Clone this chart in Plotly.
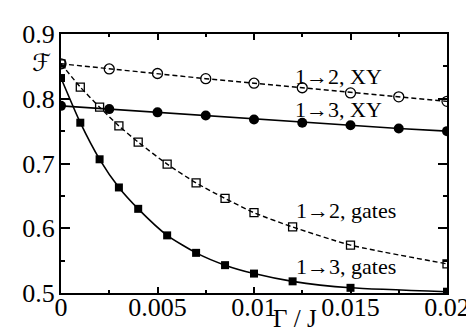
import plotly.graph_objects as go

# --- data ---
x_xy = [0, 0.0025, 0.005, 0.0075, 0.01, 0.0125, 0.015, 0.0175, 0.02]
f12_xy = [0.854, 0.846, 0.839, 0.831, 0.824, 0.817, 0.809, 0.803, 0.796]
f13_xy = [0.789, 0.784, 0.779, 0.774, 0.768, 0.763, 0.759, 0.754, 0.750]

x_gates = [0, 0.001, 0.002, 0.003, 0.004, 0.0055, 0.007, 0.0085, 0.01, 0.012, 0.015, 0.02]
f12_gates = [0.854, 0.818, 0.787, 0.758, 0.733, 0.699, 0.670, 0.646, 0.624, 0.602, 0.574, 0.545]
f13_gates = [0.832, 0.763, 0.7065, 0.663, 0.630, 0.589, 0.562, 0.543, 0.530, 0.518, 0.508, 0.502]

x_ticks = [0, 0.005, 0.01, 0.015, 0.02]
x_ticklabels = ["0", "0.005", "0.01", "0.015", "0.02"]
y_ticks = [0.5, 0.6, 0.7, 0.8, 0.9]
y_ticklabels = ["0.5", "0.6", "0.7", "0.8", "0.9"]

series_labels = ["1→2, XY", "1→3, XY", "1→2, gates", "1→3, gates"]
label_pos = [(0.0144, 0.835), (0.0144, 0.783), (0.01477, 0.627), (0.01477, 0.541)]

FONT = "Liberation Serif"

fig = go.Figure()
fig.add_trace(go.Scatter(x=x_xy, y=f12_xy, mode="lines+markers",
                         line=dict(color="black", width=1.4, dash="5px,3px"),
                         marker=dict(symbol="circle-open", size=10, color="black", line=dict(width=1.3))))
fig.add_trace(go.Scatter(x=x_xy, y=f13_xy, mode="lines+markers",
                         line=dict(color="black", width=1.6),
                         marker=dict(symbol="circle", size=10, color="black")))
fig.add_trace(go.Scatter(x=x_gates, y=f12_gates, mode="lines+markers", line_shape="spline",
                         line=dict(color="black", width=1.4, dash="5px,3px", smoothing=0.6),
                         marker=dict(symbol="square-open", size=8, color="black", line=dict(width=1.3))))
fig.add_trace(go.Scatter(x=x_gates, y=f13_gates, mode="lines+markers", line_shape="spline",
                         line=dict(color="black", width=1.6, smoothing=0.6),
                         marker=dict(symbol="square", size=8, color="black")))

for t, (ax, ay) in zip(series_labels, label_pos):
    fig.add_annotation(x=ax, y=ay, text=t, showarrow=False,
                       font=dict(family=FONT, size=22, color="black"))

fig.add_annotation(xref="paper", yref="paper", x=(33 - 53) / 390, y=1 - (44 - 14) / 271,
                   xanchor="center", yanchor="middle",
                   text="ℱ", showarrow=False,
                   font=dict(family="DejaVu Sans", size=24, color="black"))
fig.add_annotation(x=0.01215, yref="paper", y=-(312 - 285) / 271, xanchor="center", yanchor="middle",
                   text="Γ / J", showarrow=False,
                   font=dict(family=FONT, size=25, color="black"))

axis_common = dict(showline=True, linecolor="black", linewidth=2, mirror="allticks",
                   ticks="inside", tickcolor="black", showgrid=False, zeroline=False,
                   tickfont=dict(family=FONT, size=26, color="black"))

fig.update_xaxes(range=[0, 0.02], tickvals=x_ticks, ticktext=x_ticklabels, ticklen=6, tickwidth=1.5,
                 ticklabelstandoff=-10,
                 minor=dict(ticks="inside", ticklen=3, dtick=0.0025, tick0=0, tickcolor="black", showgrid=False),
                 **axis_common)
fig.update_yaxes(range=[0.5, 0.9], tickvals=y_ticks, ticktext=y_ticklabels, ticklen=9, tickwidth=1.5,
                 ticklabelstandoff=-1,
                 minor=dict(ticks="inside", ticklen=4, dtick=0.05, tick0=0.5, tickcolor="black", showgrid=False),
                 **axis_common)

fig.update_layout(width=474, height=332, showlegend=False,
                  font=dict(family=FONT, size=26, color="black"),
                  margin=dict(l=53, r=31, t=14, b=47),
                  plot_bgcolor="white", paper_bgcolor="white")
fig.write_html("out.html")
